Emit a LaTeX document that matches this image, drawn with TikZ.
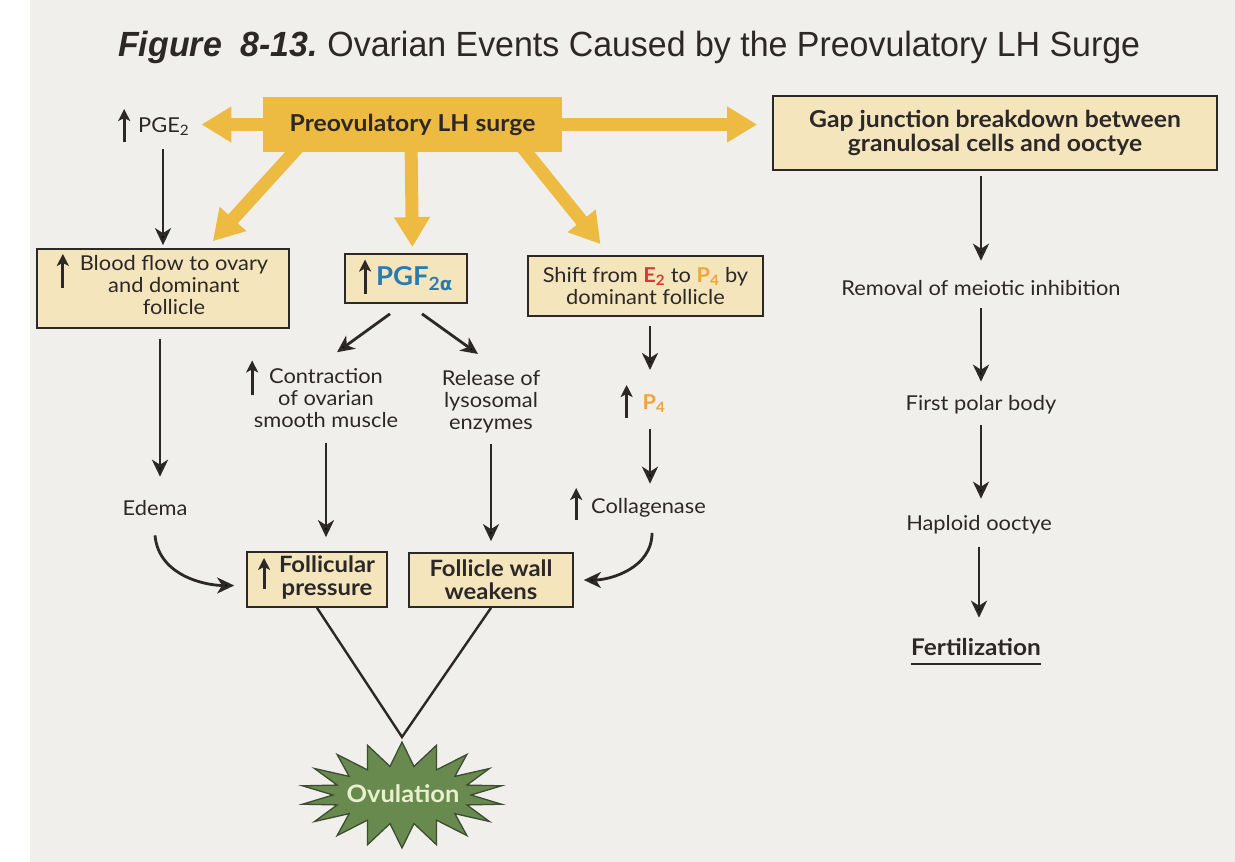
\documentclass[tikz,border=0pt]{standalone}
\usepackage{fontspec}
\usepackage{graphicx}
\setmainfont{Lato}[FakeStretch=1.065, BoldFeatures={FakeStretch=1.06}]
\newfontfamily\titlefont{Liberation Sans}
\newfontfamily\greekfont{DejaVu Sans}
\usetikzlibrary{arrows.meta,calc,backgrounds}

\definecolor{bg}{RGB}{241,239,236}
\definecolor{gold}{RGB}{237,187,66}
\definecolor{cream}{RGB}{244,229,188}
\definecolor{ink}{RGB}{45,40,40}
\definecolor{pgfblue}{RGB}{42,124,176}
\definecolor{ered}{RGB}{216,58,52}
\definecolor{porange}{RGB}{240,164,58}
\definecolor{stargreen}{RGB}{104,138,78}
\definecolor{stardark}{RGB}{62,76,52}
\definecolor{ovtext}{RGB}{232,240,205}

\newcommand{\regfont}{\fontsize{20.5}{22}\selectfont}
\newcommand{\sbold}{\fontsize{22.5}{23}\selectfont\bfseries}
\newcommand{\bbold}{\fontsize{23.3}{24}\selectfont\bfseries}
\newcommand{\pgffnt}{\fontsize{26}{28}\selectfont\bfseries}
\newcommand{\up}[2]{\smash{\tikz[baseline=0pt]\draw[line width=3pt,draw=ink,-{Stealth[length=12pt,width=12pt,inset=3pt]}] (0pt,#1) -- (0pt,#2);}}

\begin{document}
\begin{tikzpicture}[x=1pt,y=1pt,
  box/.style={draw=ink, line width=1.7pt, fill=cream, inner sep=0pt, text=ink, font=\regfont},
  goldbox/.style={fill=gold, inner sep=0pt, text=ink, font=\bbold},
  lab/.style={inner sep=2pt, text=ink, font=\regfont},
  darr/.style={draw=ink, line width=2.8pt, -{Stealth[length=17pt,width=16pt,inset=5pt]}},
  garr/.style={draw=gold, line width=13pt, -{Triangle[length=30pt,width=34pt]}},
  vline/.style={draw=ink, line width=2.4pt},
  starsty/.style={fill=stargreen, draw=stardark, line width=1.3pt, line join=miter}
]
\useasboundingbox (0,0) rectangle (1235,-862);

% title
\node[anchor=base west, inner sep=0pt, text=ink] (title) at (118,-56)
  {\resizebox{1022pt}{\height}{\titlefont\fontsize{35}{40}\selectfont\textbf{\textit{Figure\ \ 8-13.}}\ Ovarian Events Caused by the Preovulatory LH Surge}};

% top row
\node[goldbox, minimum width=299, minimum height=55] (lh) at (412.5,-124.5) {Preovulatory LH surge};
\node[lab, anchor=base west] (pge) at (116,-132) {\up{-10pt}{23pt}\hspace{8pt}PGE\textsubscript{2}};
\node[box, font=\bbold, align=center, minimum width=444, minimum height=74] (gap) at (995,-133)
  {Gap junction breakdown between\\granulosal cells and ooctye};

% second row
\node[box, minimum width=252, minimum height=79] (blood) at (163,-288.5)
  {\hspace{22pt}\begin{tabular}{@{}c@{}}\smash{\llap{\up{-17pt}{17pt}\hspace{11pt}}}Blood flow to ovary\\and dominant\\follicle\end{tabular}};
\node[box, minimum width=122, minimum height=49] (pgf) at (406,-278.5)
  {\up{-8pt}{26pt}\hspace{5pt}{\pgffnt\color{pgfblue}PGF\textsubscript{2{\greekfont\bfseries α}}}};
\node[box, align=center, minimum width=235, minimum height=60] (shift) at (645.5,-286)
  {Shift from {\bfseries\color{ered}E\textsubscript{2}} to {\bfseries\color{porange}P\textsubscript{4}} by\\dominant follicle};

% middle
\node[lab, align=center] (contr) at (326,-398)
  {\smash{\llap{\up{-12pt}{23pt}\hspace{11pt}}}Contraction\\of ovarian\\smooth muscle};
\node[lab, align=center] (rel) at (491,-401.5) {Release of\\lysosomal\\enzymes};
\node[lab, anchor=base] (edema) at (155,-515) {Edema};
\node[lab, anchor=base] (p4) at (643,-409) {\up{-9pt}{24pt}\hspace{10pt}{\bfseries\color{porange}P\textsubscript{4}}};
\node[lab, anchor=base] (coll) at (638,-513) {\up{-7pt}{25pt}\hspace{9pt}Collagenase};

% lower boxes
\node[box, font=\sbold, minimum width=140, minimum height=55] (fp) at (317,-579.5)
  {\hspace{20pt}\begin{tabular}{@{}c@{}}\smash{\llap{\up{-16pt}{15pt}\hspace{9pt}}}Follicular\\pressure\end{tabular}};
\node[box, font=\sbold, align=center, minimum width=164, minimum height=54] (fw) at (491,-580)
  {Follicle wall\\weakens};

% right column
\node[lab, anchor=base] (rem) at (981,-295) {Removal of meiotic inhibition};
\node[lab, anchor=base] (fpb) at (981,-410) {First polar body};
\node[lab, anchor=base] (hap) at (979,-530) {Haploid ooctye};
\node[lab, anchor=base, font=\fontsize{23}{24}\selectfont\bfseries] (fert) at (976,-655) {Fertilization};
\draw[line width=2pt, draw=ink] ($(fert.base west)+(2,-9)$) -- ($(fert.base east)+(-2,-9)$);

% ovulation star
\coordinate (apex) at (402,-737);
\filldraw[starsty] (402,-742)
  \foreach \a in {0,20,...,340} { -- ({402+101*cos(90+\a)},{-795+53*sin(90+\a)}) -- ({402+69*cos(100+\a)},{-795+29*sin(100+\a)}) } -- cycle;
\node[font=\fontsize{24}{26}\selectfont\bfseries, text=ovtext, inner sep=0pt] (ovu) at (403,-794) {Ovulation};

% background and gold arrows
\begin{scope}[on background layer]
  \fill[bg] (0,0) rectangle (1235,-862);
  \fill[white] (0,0) rectangle (30,-862);
  \draw[garr, shorten >=10pt] ($(lh.west)+(10,0)$) -- (pge.east |- lh.west);
  \draw[garr, shorten >=15pt] ($(lh.east)+(-10,0)$) -- (gap.west |- lh.east);
  \draw[garr, shorten >=6pt] ($(lh.south)+(-1.5,12)$) -- (lh.south |- pgf.north);
  \draw[garr] ($(lh.south west)+(40,10)$) -- ($(blood.north east)+(-77,7)$);
  \draw[garr] ($(lh.south east)+(-44,10)$) -- ($(shift.north)+(-45,11)$);
\end{scope}

% dark connectors
\draw[darr, shorten <=12pt, shorten >=3pt] (pge.south -| blood.north) -- (blood.north);
\draw[darr, shorten <=10pt, shorten >=21pt] ([xshift=-3pt]blood.south) -- ([xshift=-3pt]blood.south |- edema.north);
\draw[darr, shorten >=12pt] ($(edema.south)+(0,-18)$) to[out=-85,in=180] ($(fp.west)+(0,-6)$);
\draw[darr] ($(pgf.south)+(-16,-10)$) -- ($(contr.north)+(11,14)$);
\draw[darr] ($(pgf.south)+(16,-10)$) -- ($(rel.north)+(-13,14)$);
\draw[darr, shorten <=13pt, shorten >=14pt] (contr.south) -- (contr.south |- fp.north);
\draw[darr, shorten <=9pt, shorten >=11pt] (rel.south) -- (rel.south |- fw.north);
\draw[darr, shorten <=9pt, shorten >=22pt] ([xshift=4.5pt]shift.south) -- ([xshift=4.5pt]shift.south |- p4.north);
\draw[darr, shorten <=15pt, shorten >=12pt] ([xshift=4.5pt]shift.south |- p4.south) -- ([xshift=4.5pt]shift.south |- coll.north);
\draw[darr, shorten >=10pt] ($(coll.south)+(14,-14)$) to[out=-90,in=0] (fw.east);
\draw[vline] (fp.south) -- (apex) -- (fw.south);

\draw[darr, shorten <=5pt, shorten >=17pt] (gap.south -| rem.north) -- (rem.north);
\draw[darr, shorten <=11pt, shorten >=11pt] (rem.south) -- (fpb.north);
\draw[darr, shorten <=9pt, shorten >=14pt] (fpb.south) -- (fpb.south |- hap.north);
\draw[darr, shorten <=11pt, shorten >=18pt] (hap.south) -- (hap.south |- fert.north);
\end{tikzpicture}
\end{document}
